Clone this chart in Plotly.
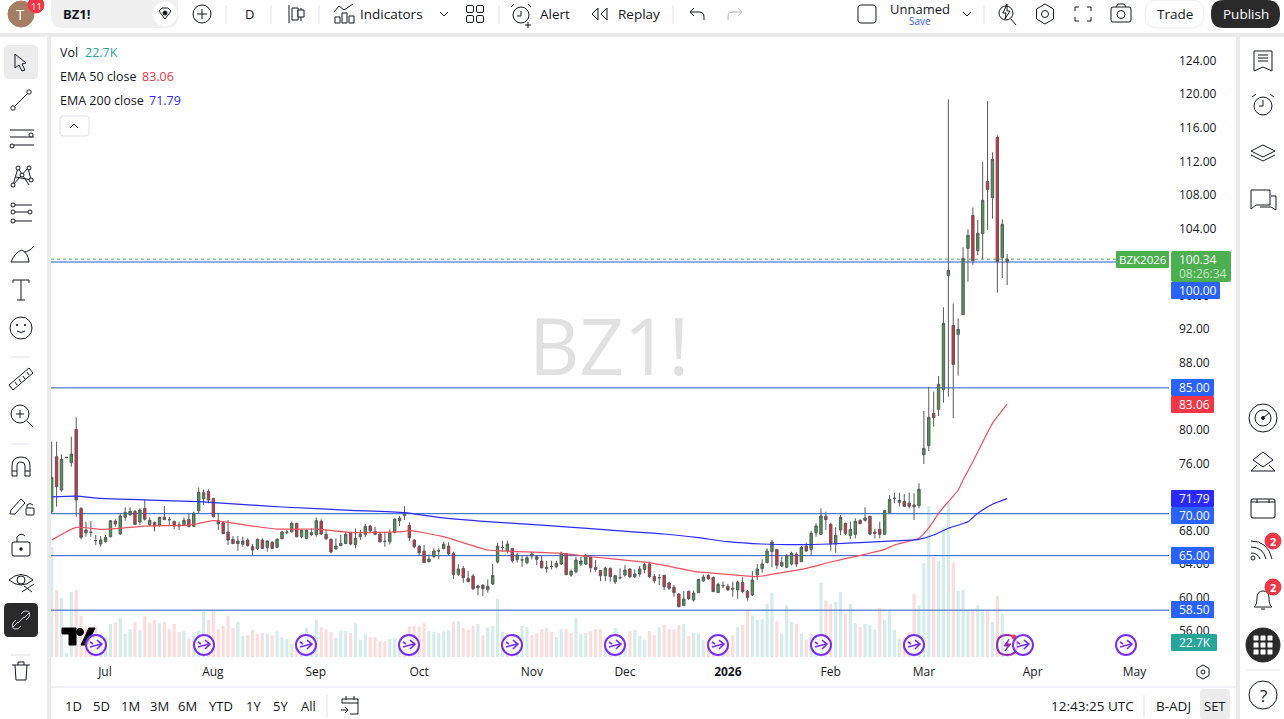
import re
import plotly.graph_objects as go

# daily bars
opens = [70.24,76.8,72.82,76.7,76.08,80.05,70.64,68.05,67.8,66.78,
66.39,66.66,67.26,69.13,67.58,69.57,69.88,70.28,69.01,70.64,
68.69,68.97,68.61,69.6,69.3,69.09,68.69,68.69,69.33,68.49,
70.36,71.79,72.66,71.83,69.17,68.93,67.82,66.94,66.75,66.35,
66.86,66.07,65.83,66.86,65.99,66.59,65.99,67.02,67.77,67.86,
68.85,67.26,67.06,67.5,67.5,69.09,67.54,66.94,65.79,66.19,
66.43,67.66,66.34,67.26,67.54,68.53,67.89,67.58,66.7,66.66,
67.77,69.17,69.76,68.61,66.86,66.1,65.55,64.28,64.91,65.55,
65.83,66.15,65.27,62.77,63.48,62.29,62.57,61.18,61.46,60.94,
61.62,64.24,65.95,65.55,65.87,64.52,64.48,64.16,64.95,64.87,
64.36,63.44,63.68,63.68,64.0,65.27,62.69,63.09,64.0,64.0,
64.79,63.6,63.24,62.61,63.48,61.89,62.36,62.69,63.4,62.49,
62.81,63.37,64.01,62.54,62.37,62.66,61.74,61.22,60.43,59.04,
60.75,59.71,60.59,61.98,62.62,62.4,60.59,61.42,61.34,60.99,
60.91,61.82,60.75,60.31,62.7,63.45,64.17,65.48,65.75,63.77,
63.61,64.0,65.16,64.28,66.15,65.75,67.74,67.54,69.69,68.73,
66.39,68.06,68.85,67.38,67.54,69.21,69.21,69.69,67.82,68.14,
67.54,70.12,71.83,71.36,71.47,71.28,71.04,70.96,77.04,78.11,
81.96,82.44,84.82,98.41,92.45,91.38,93.72,101.63,105.56,101.35,
103.38,109.61,107.67,114.86,100.52,100.0]

highs = [78.58,78.58,77.07,76.75,79.18,81.48,70.76,69.05,69.13,67.46,
67.34,67.46,69.25,69.33,70.04,70.76,70.76,70.44,70.64,71.63,
69.57,69.05,69.64,70.92,69.64,69.17,69.05,69.57,69.96,70.24,
73.14,72.9,72.9,71.83,70.04,69.13,69.25,67.34,67.34,67.26,
67.06,66.39,67.06,67.06,66.86,66.7,67.06,67.98,68.13,69.05,
68.93,68.13,68.13,68.25,69.56,69.33,68.05,67.06,67.06,67.46,
67.86,67.85,68.25,68.05,68.77,68.65,68.45,67.66,67.85,68.13,
69.44,69.72,70.91,68.97,66.94,66.26,66.26,65.15,65.87,65.87,
66.66,66.58,65.47,63.98,63.76,63.17,62.81,61.54,61.62,62.17,
64.0,66.54,66.78,66.78,65.87,65.35,65.07,65.07,65.47,65.07,
64.95,64.4,64.4,64.4,65.47,65.31,63.36,64.87,64.87,65.19,
65.07,64.48,63.28,63.68,63.6,62.69,63.48,63.88,63.48,63.36,
63.76,64.16,64.28,62.81,62.81,62.7,61.9,61.5,60.51,60.79,
60.83,60.83,62.22,62.73,62.81,62.5,61.78,61.9,61.62,61.9,
62.02,62.42,60.91,63.17,64.0,64.56,65.87,66.87,65.75,64.88,
65.16,65.48,65.4,66.15,66.55,67.98,68.85,70.64,70.24,68.93,
68.38,69.85,68.93,69.05,69.45,69.33,70.76,69.73,68.22,69.05,
70.44,72.23,72.51,72.51,72.35,72.51,72.43,73.62,82.24,85.14,
84.54,86.41,94.6,119.39,95.07,93.28,101.75,103.89,106.5,105.0,
111.92,119.19,113.07,115.1,105.08,100.95]

lows = [70.04,70.84,72.62,76.6,75.6,69.64,66.94,67.26,67.26,66.27,
66.07,66.55,67.18,68.45,67.46,69.17,69.72,68.65,68.65,69.17,
68.53,67.86,68.45,69.25,68.53,68.13,68.05,68.53,68.45,68.45,
70.04,71.04,71.23,69.56,68.05,67.58,66.27,66.39,65.59,66.07,
66.07,65.08,65.67,65.79,65.47,65.79,65.87,66.94,67.58,67.74,
67.18,67.06,66.94,67.34,67.26,67.46,66.86,65.27,65.75,66.19,
66.39,66.26,65.87,66.86,67.18,67.66,67.46,66.54,66.06,66.34,
67.66,68.53,69.24,66.78,65.87,65.07,64.16,64.2,64.67,64.6,
65.75,65.07,62.21,62.57,61.77,61.89,60.9,60.3,60.19,60.58,
61.5,64.08,65.47,65.27,64.16,64.16,63.68,63.98,64.56,63.88,
63.48,62.97,63.36,63.48,63.88,62.69,62.49,62.89,63.76,63.88,
62.97,63.09,61.95,61.95,61.89,61.62,62.17,62.49,62.33,62.33,
62.49,62.89,62.3,61.7,61.5,60.91,60.91,60.11,58.84,59.0,
59.71,59.52,60.59,61.9,62.1,60.67,60.59,61.11,60.83,60.11,
59.87,60.51,59.64,60.19,62.1,62.97,64.09,63.61,63.41,63.61,
63.49,63.85,63.69,64.28,65.44,65.08,67.26,67.46,68.06,65.6,
65.36,67.46,67.46,66.99,67.06,68.77,69.05,67.46,67.06,67.06,
67.46,70.12,71.24,70.84,70.84,70.64,69.25,70.64,75.92,77.47,
80.37,81.64,83.23,83.95,81.37,86.45,93.68,97.66,99.68,100.83,
100.36,103.81,105.16,96.34,98.09,97.26]

closes = [74.33,73.22,76.48,76.72,77.11,71.63,67.18,67.74,67.78,66.8,
66.86,67.18,69.17,68.77,69.72,70.16,70.28,68.73,70.44,69.33,
69.21,68.53,69.56,69.29,69.28,68.53,68.53,69.21,68.45,70.04,
72.55,72.5,71.63,69.64,68.81,67.62,66.86,66.43,66.43,66.75,
66.19,65.67,66.94,65.87,66.75,65.87,66.94,67.82,67.8,68.85,
67.26,68.05,68.05,67.74,69.17,67.58,67.02,65.43,66.15,66.47,
67.54,66.38,67.06,67.58,68.49,67.97,67.54,66.66,66.7,67.73,
69.36,69.48,70.12,67.14,66.07,65.35,64.16,64.6,65.55,65.57,
66.38,65.23,62.77,63.4,62.37,61.89,61.06,61.38,61.06,61.34,
62.65,66.15,65.97,66.38,64.4,65.07,64.5,64.76,65.19,64.56,
63.56,63.6,63.7,64.08,65.31,62.73,63.13,64.48,64.36,65.03,
63.56,63.36,62.61,63.52,62.49,62.61,62.37,63.28,62.49,62.81,
63.41,63.93,62.5,62.02,62.38,61.3,61.11,60.59,58.92,59.83,
59.87,60.55,62.18,62.46,62.26,60.71,61.58,61.43,60.91,61.1,
61.86,60.71,60.0,62.1,63.41,64.0,65.56,66.63,63.85,64.2,
65.04,65.28,64.0,65.99,65.56,67.66,68.54,69.73,69.29,66.39,
67.42,69.57,67.66,68.14,69.09,68.81,69.49,67.58,67.66,67.54,
70.36,71.71,71.84,71.59,70.88,70.88,70.84,72.91,77.79,81.48,
81.45,85.42,92.69,99.01,87.8,91.97,100.44,103.18,100.16,103.42,
107.35,108.66,112.24,100.04,104.49,100.34]

# volume in thousands, and whether the bar is teal (1) or red (0)
volume = [166,101,89,6,98,101,62,46,41,46,
36,31,50,52,59,35,42,53,41,62,
51,56,51,53,42,50,38,39,27,32,
40,71,56,69,42,47,62,44,53,32,
33,41,35,36,35,33,39,30,27,20,
23,26,44,28,56,45,42,38,29,39,
39,36,51,26,35,30,30,24,24,27,
29,20,26,46,47,46,51,39,38,36,
39,41,54,54,44,41,47,50,33,45,
47,88,38,33,33,30,47,45,33,36,
42,44,38,30,42,42,36,59,35,36,
39,42,42,30,30,44,23,20,39,41,
32,26,39,33,45,48,42,42,48,50,
32,36,35,26,23,18,23,23,20,33,
45,48,72,63,56,57,80,97,54,35,
78,53,50,35,26,35,31,112,85,80,
83,98,65,80,51,45,50,48,42,74,
56,71,41,27,29,38,95,78,142,228,
151,145,196,234,143,100,101,71,71,78,
68,71,53,92,66,22.7]

vol_up = [1,0,1,1,1,0,0,0,0,0,
1,1,1,0,1,1,1,0,1,0,
0,0,1,0,0,0,0,1,0,1,
1,1,0,0,0,0,0,0,1,1,
0,0,0,0,1,0,1,1,1,1,
0,1,1,1,1,0,0,0,1,1,
1,0,1,1,1,0,0,0,0,1,
1,1,0,0,0,0,0,1,1,1,
1,1,0,1,0,0,0,1,0,1,
1,1,1,0,0,1,1,1,0,0,
0,0,0,1,1,0,0,1,1,1,
0,0,0,1,0,1,1,1,0,1,
1,1,0,0,1,0,0,0,0,1,
0,1,1,1,0,0,0,1,0,0,
1,0,0,1,1,1,1,1,0,1,
1,1,0,1,0,1,1,1,0,0,
1,1,0,1,1,0,1,1,1,0,
1,1,1,1,0,0,0,1,1,1,
0,1,1,1,0,1,1,1,0,1,
1,0,1,0,1,1]

ema50_bar = [0,5,10,13,19,28,33,35,41,46,54,61,66,72,73,80,89,94,104,110,118,122,127,131,138,144,149,154,159,166,170,172,177,179,181,183,185,186,188,192,195]
ema50 = [66.86,68.37,68.13,68.21,68.53,68.65,69.17,69.05,68.53,68.17,68.17,67.78,67.77,67.89,68.01,67.26,65.67,65.51,65.27,64.87,64.4,64.17,63.61,63.13,62.77,62.5,62.97,63.49,64.24,65.16,65.75,66.27,67.07,68.3,70.05,71.44,72.8,74.02,76.2,80.77,83.06]
ema200_bar = [0,5,10,20,30,41,47,61,72,79,89,100,110,118,125,132,138,145,152,159,166,172,177,180,183,187,189,192,195]
ema200 = [72.0,72.1,71.83,71.63,71.43,71.03,70.8,70.4,70.12,69.56,69.05,68.65,68.21,67.86,67.58,67.14,66.67,66.39,66.31,66.39,66.59,66.75,66.95,67.46,68.26,69.05,70.05,71.12,71.79]

levels = [100, 85, 70, 65, 58.5]
# 72, 84 and 100 sit fully under the price tags so they are left out
price_ticks = [56,60,64,68,76,80,88,92,96,104,108,112,116,120,124]
month_labels = ["Jul","Aug","Sep","Oct","Nov","Dec","<b>2026</b>","Feb","Mar","Apr","May"]
month_bars = [10.87,32.9,53.9,75,98,117,138,159,178,200.2,221]

W, H = 1284, 719
INK = "#131722"
FONT = "Open Sans"
BLUE = "#2962ff"
LEVEL = "#2a57cf"
GREEN = "#4caf50"
RED = "#f23645"

shapes = []
notes = []


def px(x):
    return x / W


def py(y):
    return 1 - y / H


def path(d, cx=0, cy=0, color=INK, width=1, fill=None, layer="above"):
    # d is an svg path in pixels around (cx, cy), only absolute M L Q C Z
    out = []
    k = 0
    for tok in re.findall(r"[A-Za-z]|-?[\d.]+", d):
        if tok.isalpha():
            out.append(tok)
        else:
            v = float(tok)
            out.append(f"{px(v + cx):.5f}" if k % 2 == 0 else f"{py(v + cy):.5f}")
            k += 1
    s = ""
    for tok in out:
        s += tok if tok.isalpha() else tok + " "
    shapes.append(dict(type="path", xref="paper", yref="paper", path=s, layer=layer,
                       line=dict(color=color, width=width), fillcolor=fill or "rgba(0,0,0,0)"))


def box(x0, y0, x1, y1, fill, r=0, line=None, layer="above"):
    if r:
        d = (f"M{x0+r} {y0} L{x1-r} {y0} Q{x1} {y0} {x1} {y0+r} L{x1} {y1-r} Q{x1} {y1} {x1-r} {y1} "
             f"L{x0+r} {y1} Q{x0} {y1} {x0} {y1-r} L{x0} {y0+r} Q{x0} {y0} {x0+r} {y0} Z")
        path(d, color=line or fill, width=1 if line else 0, fill=fill, layer=layer)
    else:
        shapes.append(dict(type="rect", xref="paper", yref="paper", x0=px(x0), x1=px(x1), y0=py(y0), y1=py(y1),
                           fillcolor=fill, line=dict(width=1 if line else 0, color=line or fill), layer=layer))


def circle(cx, cy, r, color=INK, width=1, fill=None):
    shapes.append(dict(type="circle", xref="paper", yref="paper", x0=px(cx - r), x1=px(cx + r),
                       y0=py(cy - r), y1=py(cy + r), layer="above",
                       line=dict(color=color, width=width), fillcolor=fill or "rgba(0,0,0,0)"))


def txt(x, y, s, size=13, color=INK, anchor="left", bold=False):
    notes.append(dict(xref="paper", yref="paper", x=px(x), y=py(y), text=f"<b>{s}</b>" if bold else s,
                      showarrow=False, xanchor=anchor, yanchor="middle", borderpad=0, borderwidth=0,
                      font=dict(family=FONT, size=size, color=color)))


def tag(y0, s, x1=1214, color=BLUE):
    box(1171, y0, x1, y0 + 17, color, r=1)
    txt(1179, y0 + 8.5, s, 12, "white")


# panels
box(0, 0, W, 33, "white", layer="below")
box(0, 37, 47, H, "white", layer="below")
box(51, 37, 1236, H, "white", layer="below")
box(1240, 37, W, H, "white", layer="below")
path("M51 687 L1236 687", color="#e0e3eb", layer="below")

# price levels and the last price line
for lv in levels:
    shapes.append(dict(type="line", xref="paper", yref="y2", x0=px(51), x1=px(1169), y0=lv, y1=lv,
                       line=dict(color=LEVEL, width=1), layer="below"))
shapes.append(dict(type="line", xref="paper", yref="y2", x0=px(51), x1=px(1116), y0=closes[-1], y1=closes[-1],
                   line=dict(color=GREEN, width=1, dash="dot"), layer="below"))

# watermark and legend
txt(609, 345, "BZ1!", 78, "#e1e1e1", "center")
txt(60, 53, "Vol", 12.5)
txt(85, 53, "22.7K", 12.5, "#26a69a")
txt(60, 77, "EMA 50 close", 12.5)
txt(142, 77, "83.06", 12.5, RED)
txt(60, 101, "EMA 200 close", 12.5)
txt(149, 101, "71.79", 12.5, "#2a2aff")
box(60, 116, 89, 136, "white", r=3, line="#e0e3eb")
path("M-4 2 L0 -2 L4 2", 74, 126)

# price tags
box(1116, 251, 1169, 268, GREEN, r=1)
txt(1142.5, 259.5, "BZK2026", 11.5, "white", "center")
box(1171, 251, 1231, 282, GREEN, r=2)
txt(1179, 259.5, "100.34", 12, "white")
txt(1179, 273.5, "08:26:34", 12, "#c8e6c9")
tag(282, "100.00", 1220)
tag(379, "85.00")
tag(396, "83.06", color=RED)
tag(490, "71.79", color="#2a2aff")
tag(507, "70.00")
tag(547, "65.00")
tag(601, "58.50")
tag(634, "22.7K", 1217, "#26a69a")

# tradingview logo
path("M0 0 L14 0 L14 17 L7 17 L7 6 L0 6 Z", 62, 628, color="black", fill="black")
circle(80, 632, 3.5, "black", 1, "black")
path("M19 17 L27 0 L33 0 L25 17 Z", 62, 628, color="black", fill="black")

# event markers on the time axis
path("M0 -10 Q10 -10 10 0 Q10 10 0 10 Q-10 10 -10 0 Q-10 -10 0 -10 Z", 1007, 645, color="#9c27b0", width=2)
path("M2 -6 L-3 1 L1 1 L-2 6 L4 -1 L0 -1 Z", 1007, 645, color="#9c27b0", fill="#9c27b0")
circle(1014, 637, 2, RED, 1, RED)
for ex in [96, 204, 306, 409, 512, 615, 718, 821, 914, 1023, 1126]:
    circle(ex, 645, 10, "#7b2cf5", 2, "rgba(255,255,255,0.75)")
    path("M-6 2 L5 -1 M1 -5 L6 -1 L1 4 M-6 -3 L-3 -1", ex, 645, color="#7b2cf5", width=1.6)

# gear at the corner of the axes
HEX = "M0 -7 L6 -3.5 L6 3.5 L0 7 L-6 3.5 L-6 -3.5 Z"
path(HEX, 1203, 672)
circle(1203, 672, 2)

# top bar
circle(21, 14, 13, "#a67c63", 1, "#a67c63")
txt(21, 14, "T", 15, "white", "center")
circle(36, 5, 8, RED, 1, RED)
txt(36, 6.5, "11", 9.5, "white", "center")
box(51, -8, 178, 28, "#f0f0f0", r=12)
txt(63, 14, "BZ1!", 13, INK, bold=True)
circle(165, 14, 12, "white", 1, "white")
path("M-6 -3 L-3 -6 L3 -6 L6 -3 L0 5 Z", 165, 14)
circle(165, 13, 2, INK, 1, INK)
circle(202, 14, 9)
path("M-5 0 L5 0 M0 -5 L0 5", 202, 14)
for sx in [226, 271, 319, 499, 673, 984]:
    path(f"M{sx} 5 L{sx} 24", color="#e0e3eb")
txt(249, 14, "D", 13, INK, "center")
path("M-6 -9 L-6 9 M6 -6 L6 7", 295, 14)
box(292, 8, 298, 20, "white", line=INK)
box(298, 10, 304, 17, "white", line=INK)
path("M-10 -2 L-5 -8 L0 -4 L9 -10 M-9 9 L-9 3 L-4 3 L-4 9 Z M-2 9 L-2 -1 L3 -1 L3 9 Z M5 9 L5 2 L10 2 L10 9 Z", 344, 14)
txt(360, 14, "Indicators", 13.5)
path("M-4 -2 L0 2 L4 -2", 444, 14)
for gx, gy in [(470, 9), (480, 9), (470, 19), (480, 19)]:
    box(gx - 3.5, gy - 3.5, gx + 3.5, gy + 3.5, "white", r=1.5, line=INK)
circle(521, 15, 8)
path("M0 -4 L0 1 L-4 1 M-10 -8 L-7 -11 M10 -8 L7 -11 M7 7 L7 13 M4 10 L10 10", 521, 15)
txt(540, 14, "Alert", 13.5)
path("M-2 -6 L-8 0 L-2 6 L-2 -6 Z M7 -6 L1 0 L7 6 Z", 600, 14)
txt(618, 14, "Replay", 13.5)
path("M-7 -2 L-3 -6 M-7 -2 L-3 2 M-7 -2 L2 -2 Q7 -2 7 3 L7 6", 697, 14)
path("M7 -2 L3 -6 M7 -2 L3 2 M7 -2 L-2 -2 Q-7 -2 -7 3 L-7 6", 735, 14, color="#b2b5be")
box(858, 5, 876, 23, "white", r=3, line=INK)
txt(920, 9, "Unnamed", 13, INK, "center")
txt(920, 21, "Save", 10, BLUE, "center")
path("M-4 -2 L0 2 L4 -2", 967, 14)
circle(1006, 13, 7)
path("M1 -10 L-3 -1 L0 -1 L-1 5 L4 -3 L1 -3 Z M5 5 L10 11", 1006, 14)
path("M0 -10 L8.5 -5 L8.5 5 L0 10 L-8.5 5 L-8.5 -5 Z", 1045, 14)
circle(1045, 14, 3.5)
path("M-8 -3 L-8 -7 L-4 -7 M4 -7 L8 -7 L8 -3 M8 3 L8 7 L4 7 M-4 7 L-8 7 L-8 3", 1083, 14)
box(1111, 7, 1131, 22, "white", r=2, line=INK)
path("M-5 -7 L-3 -10 L3 -10 L5 -7", 1121, 14)
circle(1121, 14.5, 4)
box(1145, 0, 1204, 28, "white", r=13, line="#eeeeee")
txt(1174.5, 14, "Trade", 13.5, INK, "center")
box(1211, 0, 1280, 28, "#2a2a2a", r=13)
txt(1245.5, 14, "Publish", 13.5, "white", "center")

# left toolbar
box(4, 45, 38, 79, "#ececec", r=5)
path("M-5 -8 L-5 6 L-1 3 L2 9 L5 8 L2 2 L6 1 Z", 20, 62)
path("M-7 7 L7 -7", 21, 100)
circle(13, 108, 2.2, fill="white")
circle(29, 92, 2.2, fill="white")
path("M-12 -8 L12 -8 M-12 -1 L12 -1 M-12 7 L12 7", 22, 138)
circle(31, 135, 2, fill="white")
circle(12, 146, 2, fill="white")
path("M-8 9 L-3 -8 L8 9 M-8 9 L7 -8 L10 4 M-5 1 L10 4", 21, 176)
for nx, ny in [(13, 185), (18, 168), (29, 168), (31, 180), (22, 175)]:
    circle(nx, ny, 2, fill="white")
path("M-8 -9 L11 -9 M-8 -2 L9 -2 M-8 7 L11 7", 21, 214)
for nx, ny in [(13, 205), (13, 212), (13, 221), (30, 212)]:
    circle(nx, ny, 2, fill="white")
path("M-10 9 L8 9 Q7 0 1 -3 Q-6 -1 -10 9 Z M3 -1 Q8 -1 13 -7", 21, 253)
path("M-8 -10 L8 -10 M0 -10 L0 10 M-4 10 L4 10 M-8 -10 L-8 -7 M8 -10 L8 -7", 21, 290)
circle(21, 328, 11)
circle(17, 325, 0.7, fill=INK)
circle(25, 325, 0.7, fill=INK)
path("M-4 3 Q0 6 4 3", 21, 328)
path("M11 357 L30 357", color="#e0e3eb")
path("M-12 6 L8 -11 L12 -6 L-8 11 Z M-6 3 L-4 6 M-2 0 L0 3 M2 -3 L4 0 M6 -7 L8 -4", 21, 379)
circle(20, 414, 9)
path("M-4 0 L4 0 M0 -4 L0 4", 20, 414)
path("M27 421 L33 427")
path("M11 444 L30 444", color="#e0e3eb")
path("M-9 9 L-9 -1 Q-9 -10 0 -10 Q9 -10 9 -1 L9 9 L4 9 L4 -1 Q4 -5 0 -5 Q-4 -5 -4 -1 L-4 9 Z M-9 4 L-4 4 M4 4 L9 4", 21, 467)
path("M-8 5 L2 -6 L6 -2 L-4 9 L-9 9 Z", 19, 505)
box(26, 508, 34, 515, "white", r=1, line=INK)
path("M-3 0 L-3 -3 Q0 -6 3 -3", 30, 508)
box(12, 542, 30, 556, "white", r=2, line=INK)
path("M-4 0 L-4 -5 Q0 -10 4 -6", 21, 542)
circle(21, 549, 1.2, fill=INK)
path("M-12 0 Q0 -11 12 0 Q0 10 -12 0 Z", 21, 580)
circle(21, 580, 4)
path("M22 592 L34 584 M24 586 L32 592")
box(4, 603, 38, 637, "#2a2a2a", r=5)
path("M-8 7 L-3 2 M3 -2 L8 -7 M-5 0 L-8 3 Q-10 8 -6 9 Q-3 10 0 6 M5 0 L8 -3 Q10 -8 6 -9 Q3 -10 0 -6 M-3 3 L3 -3", 21, 620, color="#d1d4dc")
path("M11 655 L30 655", color="#e0e3eb")
path("M-9 -6 L9 -6 M-6 -6 L-5 9 L5 9 L6 -6 M-3 -6 L-3 -9 L3 -9 L3 -6", 21, 671)

# right toolbar
path("M-9 -10 L9 -10 L9 10 L0 6 L-9 10 Z M-5 -6 L5 -6 M-5 -3 L5 -3 M-5 0 L5 0", 1263, 61)
circle(1263, 106, 9)
path("M0 -5 L0 1 L-4 1 M-11 -8 L-7 -11 M11 -8 L7 -11", 1263, 105)
path("M0 -6 L12 0 L0 6 L-12 0 Z M-12 4 L0 10 L12 4", 1263, 151)
path("M-12 -9 L7 -9 L7 6 L-7 6 L-12 10 Z M8 -3 L13 -3 L13 11 L8 8 L-3 8", 1263, 199)
circle(1263, 418, 14)
circle(1263, 418, 8)
circle(1263, 418, 1.5, fill=INK)
path("M0 0 L6 -5", 1263, 418)
path("M0 -9 L10 -1 L0 6 L-10 -1 Z M-12 10 L-6 4 M12 10 L6 4 M-12 10 L12 10", 1263, 461)
box(1251, 499, 1275, 518, "white", r=2, line=INK)
path("M-6 -4 L-6 0 M6 -4 L6 0 M-12 -1 L12 -1", 1263, 503)
path("M-11 -8 Q6 -8 10 10 M-11 -2 Q1 -2 4 10 M-11 4 Q-4 4 -2 10", 1262, 549)
circle(1253, 558, 2)
circle(1273, 541, 8, RED, 1, RED)
txt(1273, 541, "2", 11, "white", "center", bold=True)
path("M-9 8 Q-6 6 -6 -1 Q-6 -8 0 -8 Q6 -8 6 -1 Q6 6 9 8 Z M-2 10 L2 10", 1263, 599)
circle(1273, 587, 8, RED, 1, RED)
txt(1273, 587, "2", 11, "white", "center", bold=True)
circle(1263, 645, 17, "#2a2a2a", 1, "#2a2a2a")
for gx in [1256, 1263, 1270]:
    for gy in [638, 645, 652]:
        box(gx - 2.5, gy - 2.5, gx + 2.5, gy + 2.5, "white", r=0.5)
path("M1246 670 L1280 670", color="#e0e3eb")
circle(1263, 695, 14)
txt(1263, 695, "?", 17, INK, "center")

# bottom bar
for bx, b in zip([73, 101, 130, 159, 188, 221, 253, 280, 308], ["1D", "5D", "1M", "3M", "6M", "YTD", "1Y", "5Y", "All"]):
    txt(bx, 706, b, 13, INK, "center")
path("M327 695 L327 717", color="#e0e3eb")
path("M-8 -3 L-8 -7 L8 -7 L8 8 L0 8 M-8 -3 L8 -3 M-4 -10 L-4 -6 M4 -10 L4 -6 M-9 4 L-2 4 M-5 1 L-2 4 L-5 7", 350, 706)
txt(1092, 706, "12:43:25 UTC", 13.5, INK, "center")
path("M1144 695 L1144 717", color="#e0e3eb")
txt(1173, 706, "B-ADJ", 13.5, INK, "center")
box(1200, 689, 1230, 719, "#ececec", r=4)
txt(1215, 706, "SET", 13, INK, "center")

bars = list(range(len(closes)))
vol_colors = ["rgba(38,166,154,0.2)" if u else "rgba(239,83,80,0.2)" for u in vol_up]

fig = go.Figure()
fig.add_trace(go.Bar(x=bars, y=volume, marker=dict(color=vol_colors, line=dict(width=0)), yaxis="y", hoverinfo="skip"))
fig.add_trace(go.Candlestick(
    x=bars, open=opens, high=highs, low=lows, close=closes, yaxis="y2",
    increasing=dict(line=dict(color="#5a5a5a", width=1), fillcolor="#3f9e4a"),
    decreasing=dict(line=dict(color="#5a5a5a", width=1), fillcolor="#e5283f"),
    whiskerwidth=0,
))
fig.add_trace(go.Scatter(x=ema50_bar, y=ema50, mode="lines", yaxis="y2",
                         line=dict(color="#f2505e", width=1.2, shape="spline", smoothing=0.5)))
fig.add_trace(go.Scatter(x=ema200_bar, y=ema200, mode="lines", yaxis="y2",
                         line=dict(color="#2a2aff", width=1.2, shape="spline", smoothing=0.5)))

fig.update_layout(
    width=W, height=H, margin=dict(l=0, r=0, t=0, b=0), showlegend=False,
    paper_bgcolor="#ebebeb", plot_bgcolor="rgba(0,0,0,0)",
    bargap=0.36, shapes=shapes, annotations=notes,
    font=dict(family=FONT, size=12, color=INK),
    xaxis=dict(domain=[px(51), px(1169)], range=[-0.14, 228.03], type="linear",
               tickmode="array", tickvals=month_bars, ticktext=month_labels,
               showgrid=False, zeroline=False, showline=False, ticks="", ticklabelstandoff=6,
               rangeslider=dict(visible=False), fixedrange=True, tickfont=dict(size=12, color=INK)),
    yaxis=dict(domain=[py(657), py(38)], range=[0, 934.7], visible=False, fixedrange=True),
    yaxis2=dict(domain=[py(657), py(38)], range=[52.92, 126.70], overlaying="y", side="right", anchor="x",
                tickmode="array", tickvals=price_ticks, tickformat=".2f",
                showgrid=False, zeroline=False, showline=False, ticks="", ticklabelstandoff=9,
                fixedrange=True, tickfont=dict(size=12, color=INK)),
)

fig.write_html("out.html", config={"displayModeBar": False},
               post_script="document.body.style.margin='0';document.body.style.overflow='hidden';")
